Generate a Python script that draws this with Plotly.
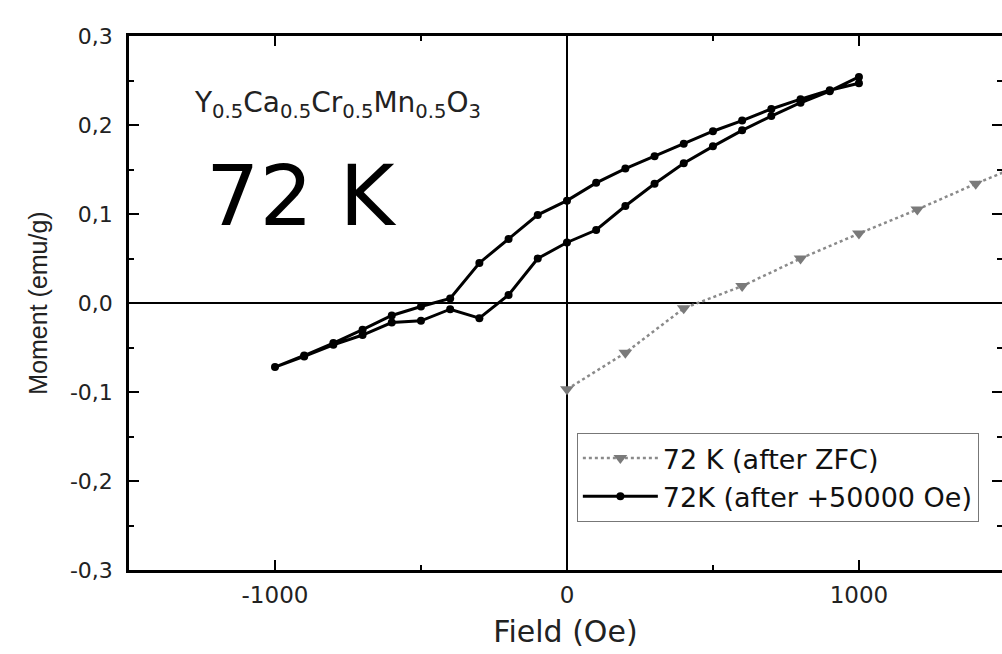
import plotly.graph_objects as go

# ZFC curve
zfc_field = [0, 200, 400, 600, 800, 1000, 1200, 1400, 1600]
zfc_moment = [-0.097, -0.056, -0.006, 0.019, 0.050, 0.078, 0.105, 0.134, 0.161]

# loop after +50000 Oe (descending branch then ascending branch)
loop_field = [1000, 900, 800, 700, 600, 500, 400, 300, 200, 100, 0,
              -100, -200, -300, -400, -500, -600, -700, -800, -900, -1000,
              -900, -800, -700, -600, -500, -400, -300, -200, -100, 0,
              100, 200, 300, 400, 500, 600, 700, 800, 900, 1000]
loop_moment = [0.247, 0.239, 0.229, 0.218, 0.205, 0.193, 0.179, 0.165, 0.151, 0.135, 0.115,
               0.099, 0.072, 0.045, 0.005, -0.004, -0.014, -0.030, -0.045, -0.059, -0.072,
               -0.060, -0.047, -0.036, -0.022, -0.020, -0.007, -0.017, 0.009, 0.050, 0.068,
               0.082, 0.109, 0.134, 0.157, 0.176, 0.194, 0.210, 0.225, 0.238, 0.254]

x_tickvals = [-1000, 0, 1000]
x_ticktext = ["-1000", "0", "1000"]
x_minor = [-1500, -500, 500, 1500]
y_tickvals = [-0.3, -0.2, -0.1, 0.0, 0.1, 0.2, 0.3]
y_ticktext = ["-0,3", "-0,2", "-0,1", "0,0", "0,1", "0,2", "0,3"]
y_minor = [-0.25, -0.15, -0.05, 0.05, 0.15, 0.25]

fig = go.Figure()
fig.add_trace(go.Scatter(
    x=zfc_field, y=zfc_moment, mode="lines+markers", name="72 K (after ZFC)",
    line=dict(color="#8a8a8a", width=2.5, dash="dot"),
    marker=dict(symbol="triangle-down", size=12, color="#7a7a7a"),
))
fig.add_trace(go.Scatter(
    x=loop_field, y=loop_moment, mode="lines+markers", name="72K (after +50000 Oe)",
    line=dict(color="black", width=3),
    marker=dict(symbol="circle", size=8, color="black"),
))
# invisible trace on right axis so its ticks render
fig.add_trace(go.Scatter(x=[0], y=[0], yaxis="y2", mode="markers",
                         marker=dict(opacity=0), showlegend=False, hoverinfo="skip"))

fig.update_layout(
    width=1002, height=654,
    margin=dict(l=129, r=0, t=36, b=84),
    paper_bgcolor="white", plot_bgcolor="white",
    showlegend=True,
    xaxis=dict(
        range=[-1500, 1490], tickmode="array", tickvals=x_tickvals, ticktext=x_ticktext,
        ticks="inside", ticklen=10, tickwidth=2, tickcolor="black",
        minor=dict(tickvals=x_minor, ticks="inside", ticklen=5, tickwidth=2, tickcolor="black"),
        showline=True, linecolor="black", linewidth=2.5, mirror="ticks",
        showgrid=False, zeroline=True, zerolinecolor="black", zerolinewidth=1.5,
        tickfont=dict(family="DejaVu Sans", size=23, color="#222"),
        ticklabelstandoff=3,
        title=dict(text="Field (Oe)", font=dict(family="DejaVu Sans", size=30, color="#222"), standoff=14),
    ),
    yaxis=dict(
        range=[-0.3, 0.3], tickmode="array", tickvals=y_tickvals, ticktext=y_ticktext,
        ticks="inside", ticklen=10, tickwidth=2, tickcolor="black",
        minor=dict(tickvals=y_minor, ticks="inside", ticklen=5, tickwidth=2, tickcolor="black"),
        showline=True, linecolor="black", linewidth=2.5, mirror=False,
        showgrid=False, zeroline=True, zerolinecolor="black", zerolinewidth=1.5,
        tickfont=dict(family="DejaVu Sans", size=22, color="#222"), ticklabelstandoff=9,
        title=dict(text="Moment (emu/g)", font=dict(family="Liberation Sans", size=25, color="#222"), standoff=16),
    ),
    yaxis2=dict(
        range=[-0.3, 0.3], overlaying="y", side="right", tickmode="array", tickvals=y_tickvals,
        ticks="inside", ticklen=10, tickwidth=2, tickcolor="black", showticklabels=False,
        minor=dict(tickvals=y_minor, ticks="inside", ticklen=5, tickwidth=2, tickcolor="black"),
        showline=False, showgrid=False, zeroline=False,
    ),
    legend=dict(
        x=0.513, y=0.2566, xanchor="left", yanchor="top",
        bgcolor="white", bordercolor="#777", borderwidth=1,
        font=dict(family="DejaVu Sans", size=27, color="#111"),
        itemwidth=75, tracegroupgap=0,
    ),
    annotations=[
        dict(text="Y<sub>0.5</sub>Ca<sub>0.5</sub>Cr<sub>0.5</sub>Mn<sub>0.5</sub>O<sub>3</sub>",
             xref="paper", yref="paper", x=0.239, y=0.871, xanchor="center", yanchor="middle",
             showarrow=False, font=dict(family="DejaVu Sans", size=28, color="#222")),
        dict(text="72 K", xref="paper", yref="paper", x=0.198, y=0.70, xanchor="center", yanchor="middle",
             showarrow=False, font=dict(family="DejaVu Sans", size=84, color="black")),
    ],
)

fig.write_html("out.html")
